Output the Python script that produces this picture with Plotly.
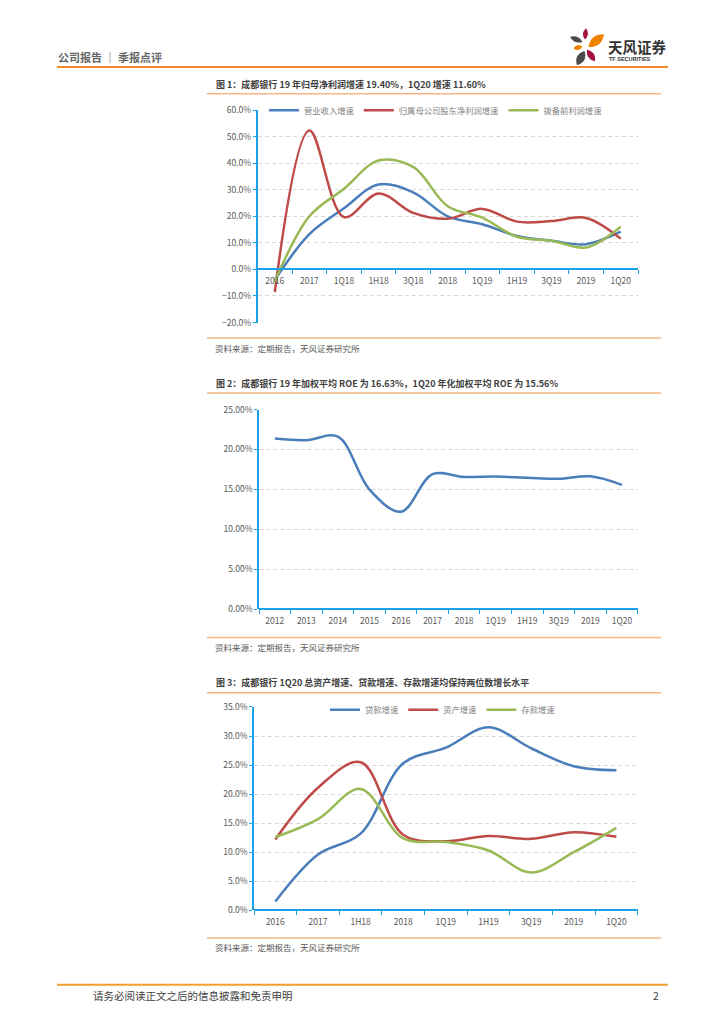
import plotly.graph_objects as go

W, H = 724, 1024

# chart 1: revenue / net profit / PPOP growth (%)
cats1 = ["2016", "2017", "1Q18", "1H18", "3Q18", "2018", "1Q19", "1H19", "3Q19", "2019", "1Q20"]
rev_growth = [-4.0, 13.3, 23.0, 32.0, 29.0, 20.0, 17.0, 12.6, 10.8, 9.5, 14.2]
np_growth = [-8.5, 52.3, 19.7, 28.6, 21.3, 19.1, 22.8, 18.0, 18.2, 19.4, 11.6]
ppop_growth = [-4.5, 20.0, 30.4, 41.0, 38.6, 23.8, 19.5, 12.3, 10.8, 8.3, 16.1]

# chart 2: weighted average ROE (%)
cats2 = ["2012", "2013", "2014", "2015", "2016", "2017", "2018", "1Q19", "1H19", "3Q19", "2019", "1Q20"]
roe = [21.37, 21.16, 21.6, 14.98, 12.2, 16.9, 16.55, 16.6, 16.46, 16.34, 16.63, 15.56]

# chart 3: loan / asset / deposit growth (%)
cats3 = ["2016", "2017", "1H18", "2018", "1Q19", "1H19", "3Q19", "2019", "1Q20"]
loan_growth = [1.5, 9.6, 13.2, 25.3, 28.0, 31.5, 27.9, 24.8, 24.1]
asset_growth = [12.2, 21.1, 25.5, 13.0, 11.9, 12.8, 12.3, 13.45, 12.65]
deposit_growth = [12.6, 15.7, 20.9, 12.4, 11.75, 10.3, 6.5, 10.0, 14.2]

BLUE, RED, GREEN = "#4a7ebb", "#be4b48", "#98b954"
AXIS = "#1aa3e8"
GRID = "#d9d9d9"
TXT = "#595959"
FONT = "Noto Sans CJK SC"


def px(x):
    return x / W


def py(y):
    return 1 - y / H


fig = go.Figure()

line_kw = dict(mode="lines", line_shape="spline", hoverinfo="skip")
fig.add_trace(go.Scatter(x=cats1, y=rev_growth, name="营业收入增速", line=dict(color=BLUE, width=2.5),
                         xaxis="x", yaxis="y", legend="legend", **line_kw))
fig.add_trace(go.Scatter(x=cats1, y=np_growth, name="归属母公司股东净利润增速", line=dict(color=RED, width=2.5),
                         xaxis="x", yaxis="y", legend="legend", **line_kw))
fig.add_trace(go.Scatter(x=cats1, y=ppop_growth, name="拨备前利润增速", line=dict(color=GREEN, width=2.5),
                         xaxis="x", yaxis="y", legend="legend", **line_kw))
fig.add_trace(go.Scatter(x=cats2, y=roe, name="ROE", line=dict(color=BLUE, width=2.5),
                         xaxis="x2", yaxis="y2", showlegend=False, **line_kw))
fig.add_trace(go.Scatter(x=cats3, y=loan_growth, name="贷款增速", line=dict(color=BLUE, width=2.5),
                         xaxis="x3", yaxis="y3", legend="legend2", **line_kw))
fig.add_trace(go.Scatter(x=cats3, y=asset_growth, name="资产增速", line=dict(color=RED, width=2.5),
                         xaxis="x3", yaxis="y3", legend="legend2", **line_kw))
fig.add_trace(go.Scatter(x=cats3, y=deposit_growth, name="存款增速", line=dict(color=GREEN, width=2.5),
                         xaxis="x3", yaxis="y3", legend="legend2", **line_kw))

tickfont = dict(family=FONT, size=8.5, color=TXT)


def xax(x0, x1, n, pos_px):
    return dict(domain=[px(x0), px(x1)], range=[-0.5, n - 0.5], type="category",
                anchor="free", position=py(pos_px), showline=True, linecolor=AXIS, linewidth=1.5,
                ticks="outside", tickson="boundaries", ticklen=4, tickcolor=AXIS, tickwidth=1,
                ticklabelstandoff=4,
                showgrid=False, zeroline=False, tickfont=tickfont, fixedrange=True)


def yax(y0, y1, rng, fmt, xa):
    return dict(domain=[py(y1), py(y0)], range=rng, dtick=5 if rng[1] < 40 else 10,
                anchor=xa, showline=True, linecolor=AXIS, linewidth=1.5,
                ticks="outside", ticklen=3, tickcolor=AXIS, ticksuffix="%", tickformat=fmt,
                showgrid=True, gridcolor=GRID, griddash="4px,3px", gridwidth=1,
                zeroline=False, tickfont=tickfont, fixedrange=True)


legfont = dict(family=FONT, size=8.3, color="#7f7f7f")

fig.update_layout(
    width=W, height=H, margin=dict(l=0, r=0, t=0, b=0),
    paper_bgcolor="white", plot_bgcolor="white",
    xaxis=xax(257.5, 638, len(cats1), 265.6),
    yaxis=yax(104.3, 319.3, [-20, 60], ".1f", "x"),
    xaxis2=xax(259, 637.7, len(cats2), 609.3),
    yaxis2=yax(407.3, 609.3, [0, 25], ".2f", "x2"),
    xaxis3=xax(254, 637.7, len(cats3), 914),
    yaxis3=yax(708.3, 914, [0, 35], ".1f", "x3"),
    legend=dict(orientation="h", x=px(264), y=py(104.5), xanchor="left", yanchor="middle",
                bgcolor="rgba(0,0,0,0)", font=legfont, itemwidth=30),
    legend2=dict(orientation="h", x=px(325), y=py(711), xanchor="left", yanchor="middle",
                 bgcolor="rgba(0,0,0,0)", font=legfont, itemwidth=30),
    showlegend=True,
)

annots = []


def txt(x, y, s, size, color=TXT, bold=False, anchor="left", family=FONT):
    annots.append(dict(x=px(x), y=py(y), xref="paper", yref="paper", text=f"<b>{s}</b>" if bold else s,
                       showarrow=False, xanchor=anchor, yanchor="middle", borderpad=0,
                       font=dict(family=family, size=size, color=color)))


txt(57, 51, "公司报告 ｜ 季报点评", 11, "#666666", bold=True)
txt(607, 39.5, "天风证券", 14.5, "#333333", bold=True)
txt(608, 53, "TF SECURITIES", 5.5, "#333333", bold=True, family="Liberation Sans")
txt(215, 78, "图 1：成都银行 19 年归母净利润增速 19.40%，1Q20 增速 11.60%", 9, "#404040", bold=True)
txt(214, 345, "资料来源：定期报告，天风证券研究所", 8.5)
txt(215, 381, "图 2：成都银行 19 年加权平均 ROE 为 16.63%，1Q20 年化加权平均 ROE 为 15.56%", 9, "#404040", bold=True)
txt(214, 648, "资料来源：定期报告，天风证券研究所", 8.5)
txt(215, 684, "图 3：成都银行 1Q20 总资产增速、贷款增速、存款增速均保持两位数增长水平", 9, "#404040", bold=True)
txt(214, 951, "资料来源：定期报告，天风证券研究所", 8.5)
txt(92, 1000, "请务必阅读正文之后的信息披露和免责申明", 10.5, "#404040")
txt(660, 1000, "2", 10.5, "#404040", anchor="right")

shapes = []


def hline(x0, x1, y, color, width):
    shapes.append(dict(type="line", xref="paper", yref="paper", x0=px(x0), x1=px(x1), y0=py(y), y1=py(y),
                       line=dict(color=color, width=width)))


hline(57, 668, 60.7, "#f08a24", 2)
hline(57, 668, 989.3, "#f0a030", 2)
for y in (87.7, 335, 390.7, 638, 694, 942):
    hline(207, 661, y, "#f6b886", 1.5)


def leaf(x1, y1, x2, y2, w, color):
    mx, my = (x1 + x2) / 2, (y1 + y2) / 2
    dx, dy = x2 - x1, y2 - y1
    ln = (dx * dx + dy * dy) ** 0.5
    nx, ny = -dy / ln * w, dx / ln * w
    path = (f"M {px(x1)},{py(y1)} Q {px(mx + nx)},{py(my + ny)} {px(x2)},{py(y2)} "
            f"Q {px(mx - nx)},{py(my - ny)} {px(x1)},{py(y1)} Z")
    shapes.append(dict(type="path", xref="paper", yref="paper", path=path,
                       fillcolor=color, line=dict(width=0)))


leaf(586, 21.5, 585, 33, 5, "#a4123f")
leaf(570, 30, 582.5, 35.5, 5.5, "#4a4a4a")
leaf(604, 27.5, 588.5, 40.5, 9, "#f08300")
leaf(573.5, 42, 582.5, 40, 5, "#f08300")
leaf(584.5, 44.5, 577, 59, 8, "#4a4a4a")
leaf(587, 43, 595, 55, 6.5, "#a4123f")

fig.update_layout(annotations=annots, shapes=shapes)

# page has the browser's default body margin; drop it so the figure fills the window
fig.write_html("out.html", config={"displayModeBar": False},
               post_script="document.body.style.margin='0px';document.body.style.overflow='hidden';")
